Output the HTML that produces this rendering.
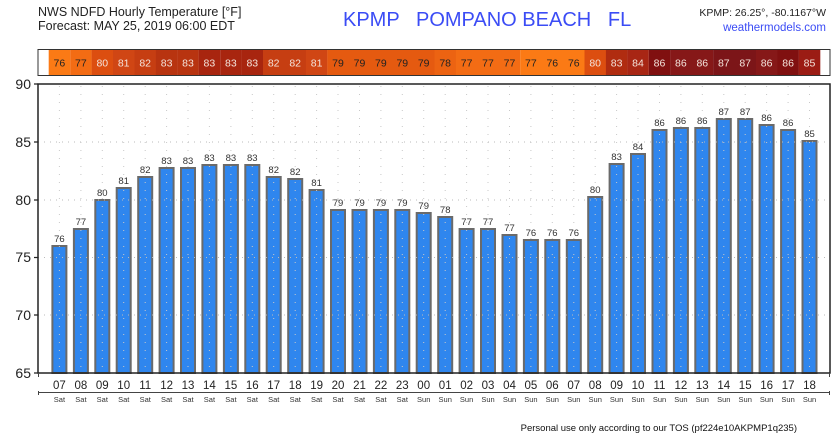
<!DOCTYPE html>
<html><head><meta charset="utf-8"><style>
body{margin:0;background:#fff}
svg{display:block;font-family:"Liberation Sans","DejaVu Sans",sans-serif}
</style></head><body>
<svg width="838" height="436" viewBox="0 0 838 436" xmlns="http://www.w3.org/2000/svg">
<text x="38" y="16" font-size="12.5" fill="#222">NWS NDFD Hourly Temperature [°F]</text>
<text x="38" y="30" font-size="12.5" fill="#222">Forecast: MAY 25, 2019 06:00 EDT</text>
<text x="343" y="26" font-size="20" fill="#3b4cf5" xml:space="preserve">KPMP   POMPANO BEACH   FL</text>
<text x="826" y="16" font-size="10.5" fill="#222" text-anchor="end">KPMP: 26.25°, -80.1167°W</text>
<text x="826" y="31" font-size="11.5" fill="#3b4cf5" text-anchor="end">weathermodels.com</text>
<!-- strip -->
<rect x="38" y="49.5" width="792" height="26" fill="#fff" stroke="#333" stroke-width="1"/>
<g>
<rect x="48.7" y="50" width="21.5" height="25" fill="#fb7a15"/>
<rect x="70.2" y="50" width="21.5" height="25" fill="#f36c14"/>
<rect x="91.6" y="50" width="21.5" height="25" fill="#dc4e10"/>
<rect x="113" y="50" width="21.5" height="25" fill="#d04614"/>
<rect x="134.5" y="50" width="21.5" height="25" fill="#c63e12"/>
<rect x="155.9" y="50" width="21.5" height="25" fill="#b83410"/>
<rect x="177.3" y="50" width="21.5" height="25" fill="#b83410"/>
<rect x="198.7" y="50" width="21.5" height="25" fill="#a8250f"/>
<rect x="220.2" y="50" width="21.5" height="25" fill="#a8250f"/>
<rect x="241.6" y="50" width="21.5" height="25" fill="#a8250f"/>
<rect x="263" y="50" width="21.5" height="25" fill="#c63e12"/>
<rect x="284.5" y="50" width="21.5" height="25" fill="#c63e12"/>
<rect x="305.9" y="50" width="21.5" height="25" fill="#d04614"/>
<rect x="327.3" y="50" width="107.2" height="25" fill="#e55a10"/>
<rect x="434.5" y="50" width="21.5" height="25" fill="#ec6312"/>
<rect x="455.9" y="50" width="64.3" height="25" fill="#f36c14"/>
<rect x="520.2" y="50" width="64.3" height="25" fill="#fb7a15"/>
<rect x="584.5" y="50" width="21.5" height="25" fill="#dc4e10"/>
<rect x="605.9" y="50" width="21.5" height="25" fill="#b02c10"/>
<rect x="627.3" y="50" width="21.5" height="25" fill="#a82614"/>
<rect x="648.8" y="50" width="21.5" height="25" fill="#801010"/>
<rect x="670.2" y="50" width="42.9" height="25" fill="#861818"/>
<rect x="713.1" y="50" width="42.9" height="25" fill="#7c1518"/>
<rect x="756" y="50" width="21.5" height="25" fill="#861818"/>
<rect x="777.4" y="50" width="21.5" height="25" fill="#801010"/>
<rect x="798.8" y="50" width="21.5" height="25" fill="#9b1c14"/>
</g>
<g font-size="10.5" text-anchor="middle" fill="#f4e4dc">
<text x="59.4" y="66.5" fill="#222">76</text><text x="80.9" y="66.5" fill="#222">77</text><text x="102.3" y="66.5">80</text><text x="123.7" y="66.5">81</text><text x="145.2" y="66.5">82</text><text x="166.6" y="66.5">83</text><text x="188" y="66.5">83</text><text x="209.4" y="66.5">83</text><text x="230.9" y="66.5">83</text><text x="252.3" y="66.5">83</text><text x="273.7" y="66.5">82</text><text x="295.2" y="66.5">82</text><text x="316.6" y="66.5">81</text>
<g fill="#222"><text x="338" y="66.5">79</text><text x="359.5" y="66.5">79</text><text x="380.9" y="66.5">79</text><text x="402.3" y="66.5">79</text><text x="423.7" y="66.5">79</text><text x="445.2" y="66.5">78</text><text x="466.6" y="66.5">77</text><text x="488" y="66.5">77</text><text x="509.5" y="66.5">77</text><text x="530.9" y="66.5">77</text><text x="552.3" y="66.5">76</text><text x="573.8" y="66.5">76</text></g>
<text x="595.2" y="66.5">80</text><text x="616.6" y="66.5">83</text><text x="638" y="66.5">84</text><text x="659.5" y="66.5">86</text><text x="680.9" y="66.5">86</text><text x="702.3" y="66.5">86</text><text x="723.8" y="66.5">87</text><text x="745.2" y="66.5">87</text><text x="766.6" y="66.5">86</text><text x="788.1" y="66.5">86</text><text x="809.5" y="66.5">85</text>
</g>
<!-- bars -->
<g fill="#2f86ee" stroke="#6a6a6a" stroke-width="2">
<rect x="52.4" y="246" width="14" height="127"/><rect x="73.9" y="229" width="14" height="144"/><rect x="95.3" y="200" width="14" height="173"/><rect x="116.7" y="188" width="14" height="185"/><rect x="138.2" y="177" width="14" height="196"/><rect x="159.6" y="168" width="14" height="205"/><rect x="181" y="168" width="14" height="205"/><rect x="202.4" y="165" width="14" height="208"/><rect x="223.9" y="165" width="14" height="208"/><rect x="245.3" y="165" width="14" height="208"/><rect x="266.7" y="177" width="14" height="196"/><rect x="288.2" y="179" width="14" height="194"/><rect x="309.6" y="190" width="14" height="183"/><rect x="331" y="210" width="14" height="163"/><rect x="352.5" y="210" width="14" height="163"/><rect x="373.9" y="210" width="14" height="163"/><rect x="395.3" y="210" width="14" height="163"/><rect x="416.7" y="213" width="14" height="160"/><rect x="438.2" y="217" width="14" height="156"/><rect x="459.6" y="229" width="14" height="144"/><rect x="481" y="229" width="14" height="144"/><rect x="502.5" y="235" width="14" height="138"/><rect x="523.9" y="240" width="14" height="133"/><rect x="545.3" y="240" width="14" height="133"/><rect x="566.8" y="240" width="14" height="133"/><rect x="588.2" y="197" width="14" height="176"/><rect x="609.6" y="164" width="14" height="209"/><rect x="631" y="154" width="14" height="219"/><rect x="652.5" y="130" width="14" height="243"/><rect x="673.9" y="128" width="14" height="245"/><rect x="695.3" y="128" width="14" height="245"/><rect x="716.8" y="119" width="14" height="254"/><rect x="738.2" y="119" width="14" height="254"/><rect x="759.6" y="125" width="14" height="248"/><rect x="781.1" y="130" width="14" height="243"/><rect x="802.5" y="141" width="14" height="232"/>
</g>
<!-- grid -->
<g stroke="#bbb" stroke-width="1" stroke-dasharray="1,5">
<line x1="38" y1="142" x2="830" y2="142"/><line x1="38" y1="200" x2="830" y2="200"/><line x1="38" y1="257.5" x2="830" y2="257.5"/><line x1="38" y1="315" x2="830" y2="315"/>
</g>
<g stroke="#c8c8c8" stroke-width="1" stroke-dasharray="1,7">
<path d="M59.4 86V372M80.9 86V372M102.3 86V372M123.7 86V372M145.2 86V372M166.6 86V372M188 86V372M209.4 86V372M230.9 86V372M252.3 86V372M273.7 86V372M295.2 86V372M316.6 86V372M338 86V372M359.5 86V372M380.9 86V372M402.3 86V372M423.7 86V372M445.2 86V372M466.6 86V372M488 86V372M509.5 86V372M530.9 86V372M552.3 86V372M573.8 86V372M595.2 86V372M616.6 86V372M638 86V372M659.5 86V372M680.9 86V372M702.3 86V372M723.8 86V372M745.2 86V372M766.6 86V372M788.1 86V372M809.5 86V372"/>
</g>
<rect x="38" y="84" width="792" height="289" fill="none" stroke="#222" stroke-width="1.5"/>
<!-- value labels -->
<g font-size="9.5" text-anchor="middle" fill="#333">
<text x="59.4" y="242">76</text><text x="80.9" y="225">77</text><text x="102.3" y="196">80</text><text x="123.7" y="184">81</text><text x="145.2" y="173">82</text><text x="166.6" y="164">83</text><text x="188" y="164">83</text><text x="209.4" y="161">83</text><text x="230.9" y="161">83</text><text x="252.3" y="161">83</text><text x="273.7" y="173">82</text><text x="295.2" y="175">82</text><text x="316.6" y="186">81</text><text x="338" y="206">79</text><text x="359.5" y="206">79</text><text x="380.9" y="206">79</text><text x="402.3" y="206">79</text><text x="423.7" y="209">79</text><text x="445.2" y="213">78</text><text x="466.6" y="225">77</text><text x="488" y="225">77</text><text x="509.5" y="231">77</text><text x="530.9" y="236">76</text><text x="552.3" y="236">76</text><text x="573.8" y="236">76</text><text x="595.2" y="193">80</text><text x="616.6" y="160">83</text><text x="638" y="150">84</text><text x="659.5" y="126">86</text><text x="680.9" y="124">86</text><text x="702.3" y="124">86</text><text x="723.8" y="115">87</text><text x="745.2" y="115">87</text><text x="766.6" y="121">86</text><text x="788.1" y="126">86</text><text x="809.5" y="137">85</text>
</g>
<!-- y axis -->
<g font-size="14" text-anchor="end" fill="#222">
<text x="31" y="89">90</text><text x="31" y="147">85</text><text x="31" y="205">80</text><text x="31" y="262">75</text><text x="31" y="320">70</text><text x="31" y="378">65</text>
</g>
<g stroke="#222" stroke-width="1.2"><path d="M34 84H38M34 142H38M34 200H38M34 257.5H38M34 315H38M34 373H38"/></g>
<!-- x axis -->
<g stroke="#444" stroke-width="1"><path d="M38 392.5H830M38.5 391V395M829.5 391V395M38.5 373V377M829.5 373V377"/></g>
<g font-size="11.5" text-anchor="middle" fill="#222">
<text x="59.4" y="389">07</text><text x="80.9" y="389">08</text><text x="102.3" y="389">09</text><text x="123.7" y="389">10</text><text x="145.2" y="389">11</text><text x="166.6" y="389">12</text><text x="188" y="389">13</text><text x="209.4" y="389">14</text><text x="230.9" y="389">15</text><text x="252.3" y="389">16</text><text x="273.7" y="389">17</text><text x="295.2" y="389">18</text><text x="316.6" y="389">19</text><text x="338" y="389">20</text><text x="359.5" y="389">21</text><text x="380.9" y="389">22</text><text x="402.3" y="389">23</text><text x="423.7" y="389">00</text><text x="445.2" y="389">01</text><text x="466.6" y="389">02</text><text x="488" y="389">03</text><text x="509.5" y="389">04</text><text x="530.9" y="389">05</text><text x="552.3" y="389">06</text><text x="573.8" y="389">07</text><text x="595.2" y="389">08</text><text x="616.6" y="389">09</text><text x="638" y="389">10</text><text x="659.5" y="389">11</text><text x="680.9" y="389">12</text><text x="702.3" y="389">13</text><text x="723.8" y="389">14</text><text x="745.2" y="389">15</text><text x="766.6" y="389">16</text><text x="788.1" y="389">17</text><text x="809.5" y="389">18</text>
</g>
<g font-size="7.5" text-anchor="middle" fill="#333">
<text x="59.4" y="402">Sat</text><text x="80.9" y="402">Sat</text><text x="102.3" y="402">Sat</text><text x="123.7" y="402">Sat</text><text x="145.2" y="402">Sat</text><text x="166.6" y="402">Sat</text><text x="188" y="402">Sat</text><text x="209.4" y="402">Sat</text><text x="230.9" y="402">Sat</text><text x="252.3" y="402">Sat</text><text x="273.7" y="402">Sat</text><text x="295.2" y="402">Sat</text><text x="316.6" y="402">Sat</text><text x="338" y="402">Sat</text><text x="359.5" y="402">Sat</text><text x="380.9" y="402">Sat</text><text x="402.3" y="402">Sat</text><text x="423.7" y="402">Sun</text><text x="445.2" y="402">Sun</text><text x="466.6" y="402">Sun</text><text x="488" y="402">Sun</text><text x="509.5" y="402">Sun</text><text x="530.9" y="402">Sun</text><text x="552.3" y="402">Sun</text><text x="573.8" y="402">Sun</text><text x="595.2" y="402">Sun</text><text x="616.6" y="402">Sun</text><text x="638" y="402">Sun</text><text x="659.5" y="402">Sun</text><text x="680.9" y="402">Sun</text><text x="702.3" y="402">Sun</text><text x="723.8" y="402">Sun</text><text x="745.2" y="402">Sun</text><text x="766.6" y="402">Sun</text><text x="788.1" y="402">Sun</text><text x="809.5" y="402">Sun</text>
</g>
<text x="797" y="431" font-size="9.5" fill="#111" text-anchor="end">Personal use only according to our TOS (pf224e10AKPMP1q235)</text>
</svg>
</body></html>
